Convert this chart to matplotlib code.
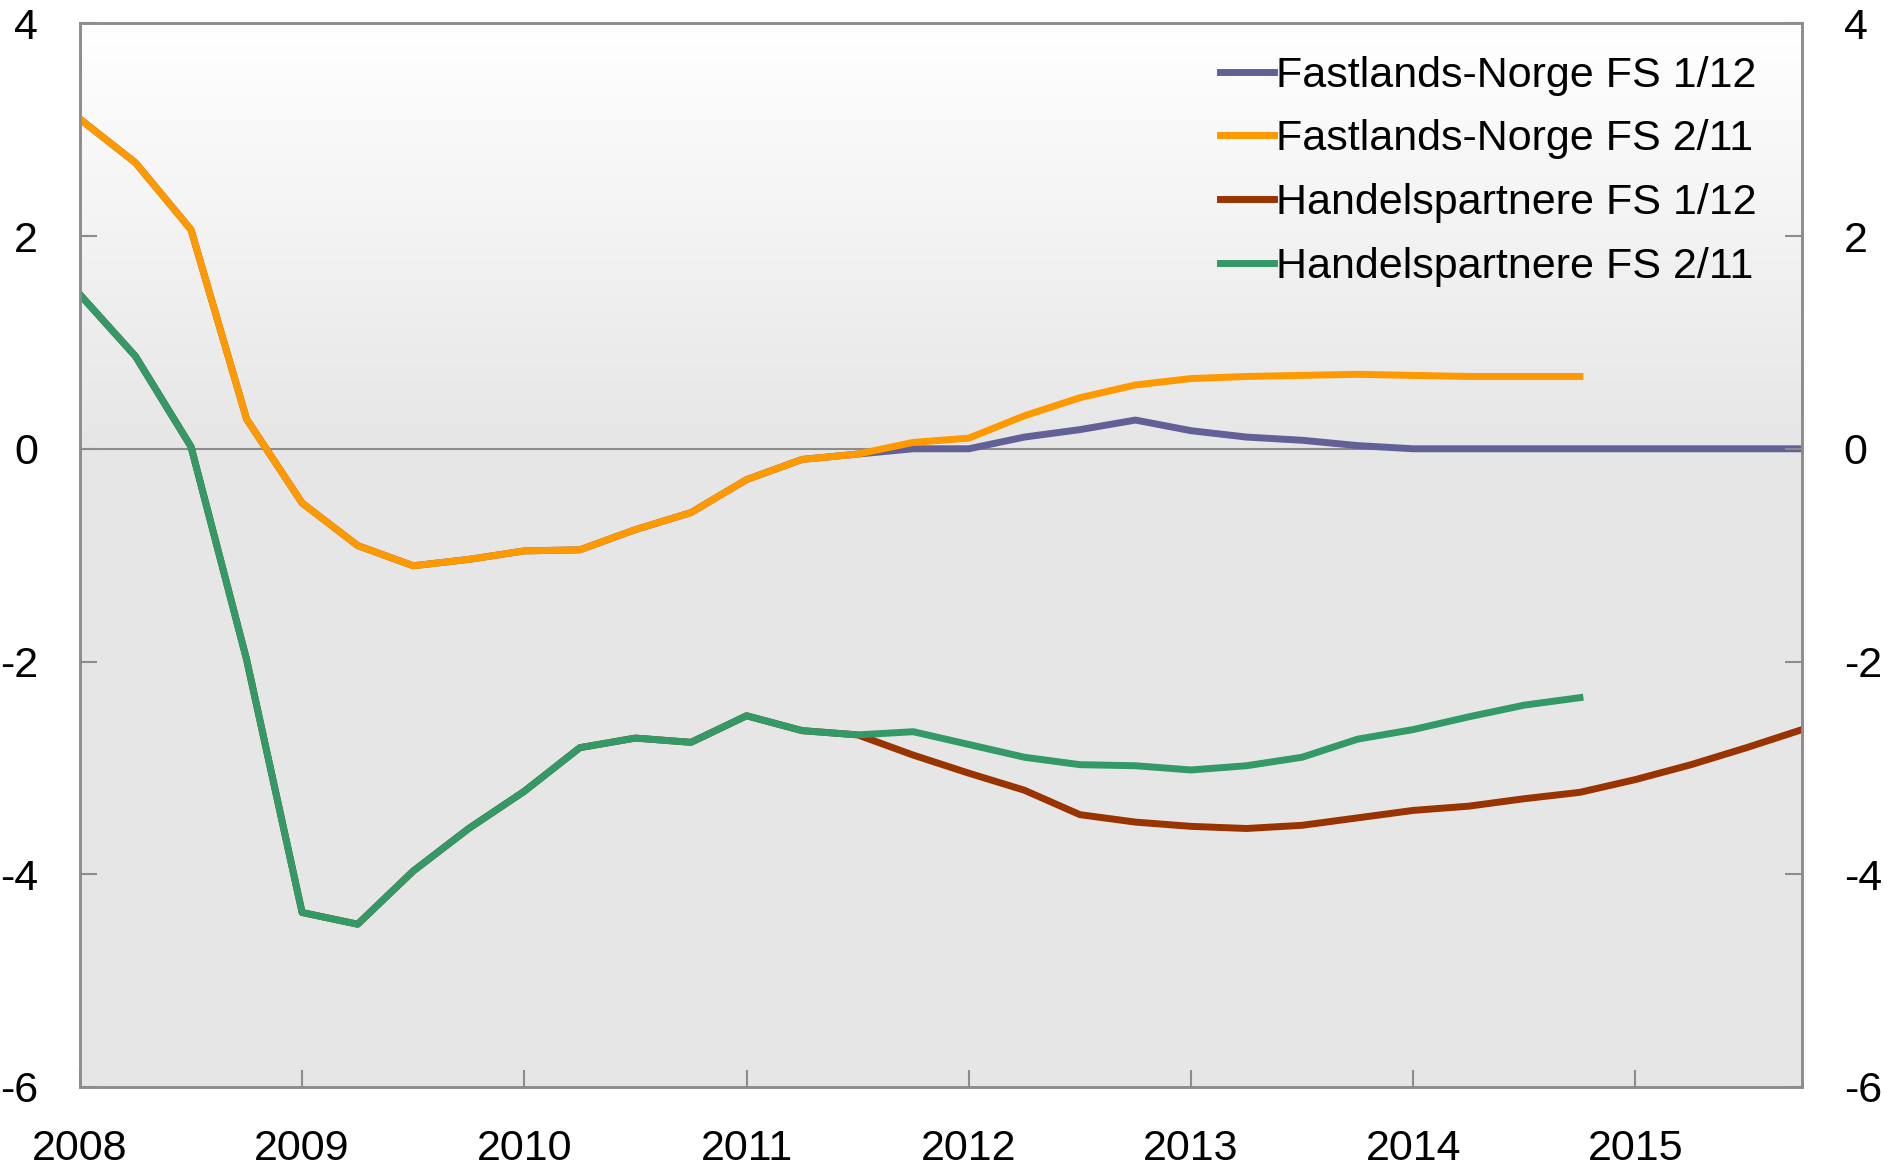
import numpy as np
import matplotlib
matplotlib.use("Agg")
import matplotlib.pyplot as plt
from matplotlib.colors import LinearSegmentedColormap

plt.rcParams['font.family'] = ['Liberation Sans', 'DejaVu Sans']

# Quarterly observations, 2008 Q1 onwards
quarters = [2008 + i * 0.25 for i in range(32)]

fastland_fs1_12 = [3.10, 2.69, 2.06, 0.28, -0.51, -0.91, -1.10, -1.04,
                   -0.96, -0.95, -0.76, -0.60, -0.29, -0.10, -0.05, 0.00,
                   0.00, 0.11, 0.18, 0.27, 0.17, 0.11, 0.08, 0.03,
                   0.00, 0.00, 0.00, 0.00, 0.00, 0.00, 0.00, 0.00]
fastland_fs2_11 = [3.10, 2.69, 2.06, 0.28, -0.51, -0.91, -1.10, -1.04,
                   -0.96, -0.95, -0.76, -0.60, -0.29, -0.10, -0.05, 0.06,
                   0.10, 0.31, 0.48, 0.60, 0.66, 0.68, 0.69, 0.70,
                   0.69, 0.68, 0.68, 0.68]
handel_fs1_12 = [1.45, 0.87, 0.02, -1.98, -4.36, -4.47, -3.97, -3.57,
                 -3.22, -2.81, -2.72, -2.76, -2.51, -2.65, -2.69, -2.88,
                 -3.05, -3.21, -3.44, -3.51, -3.55, -3.57, -3.54, -3.47,
                 -3.40, -3.36, -3.29, -3.23, -3.11, -2.97, -2.81, -2.64]
handel_fs2_11 = [1.45, 0.87, 0.02, -1.98, -4.36, -4.47, -3.97, -3.57,
                 -3.22, -2.81, -2.72, -2.76, -2.51, -2.65, -2.69, -2.66,
                 -2.78, -2.90, -2.97, -2.98, -3.02, -2.98, -2.90, -2.73,
                 -2.64, -2.52, -2.41, -2.34]

year_ticks = list(range(2008, 2016))
y_ticks = [-6, -4, -2, 0, 2, 4]

fig = plt.figure(figsize=(18.93, 11.67), dpi=100)
ax = fig.add_axes([0.0422, 0.0686, 0.9098, 0.9114])

# background gradient: white at the top fading into light grey
grad = np.linspace(0, 1, 256).reshape(-1, 1)
grad = np.clip(grad / 0.4, 0, 1)
cmap = LinearSegmentedColormap.from_list('bg', ['#ffffff', '#e6e6e6'])
ax.imshow(grad, aspect='auto', cmap=cmap, extent=[0, 1, 0, 1],
          origin='upper', zorder=0, transform=ax.transAxes)

ax.axhline(0, color='#8c8c8c', lw=1.5, zorder=1)

lw = 5
ax.plot(quarters, fastland_fs1_12, color='#616198', lw=lw, label='Fastlands-Norge FS 1/12', zorder=2)
ax.plot(quarters[:len(fastland_fs2_11)], fastland_fs2_11, color='#ff9900', lw=lw,
        label='Fastlands-Norge FS 2/11', zorder=3)
ax.plot(quarters, handel_fs1_12, color='#993300', lw=lw, label='Handelspartnere FS 1/12', zorder=2)
ax.plot(quarters[:len(handel_fs2_11)], handel_fs2_11, color='#339966', lw=lw,
        label='Handelspartnere FS 2/11', zorder=3)

ax.set_xlim(2008, 2015.75)
ax.set_ylim(-6, 4)
ax.set_xticks(year_ticks)
ax.set_xticklabels([str(y) for y in year_ticks])
ax.set_yticks(y_ticks)
ax.set_yticklabels([str(v) for v in y_ticks])

for s in ax.spines.values():
    s.set_color('#8c8c8c')
    s.set_linewidth(1.8)

ax.tick_params(axis='both', direction='in', length=12, width=1.5, color='#8c8c8c',
               labelsize=31, labelcolor='black')
ax.tick_params(axis='x', pad=30)
ax.tick_params(axis='y', pad=30)

ax2 = ax.twinx()
ax2.set_ylim(-6, 4)
ax2.set_yticks(y_ticks)
ax2.set_yticklabels([str(v) for v in y_ticks])
ax2.tick_params(axis='y', direction='in', length=12, width=1.5, color='#8c8c8c',
                labelsize=31, pad=30)
for s in ax2.spines.values():
    s.set_color('#8c8c8c')
    s.set_linewidth(1.8)

leg = ax.legend(loc='upper right', fontsize=31, frameon=False, handlelength=1.25,
                handletextpad=0.05, labelspacing=0.55, borderaxespad=0.3,
                bbox_to_anchor=(0.991, 0.998))

fig.savefig('out.png', dpi=100)
